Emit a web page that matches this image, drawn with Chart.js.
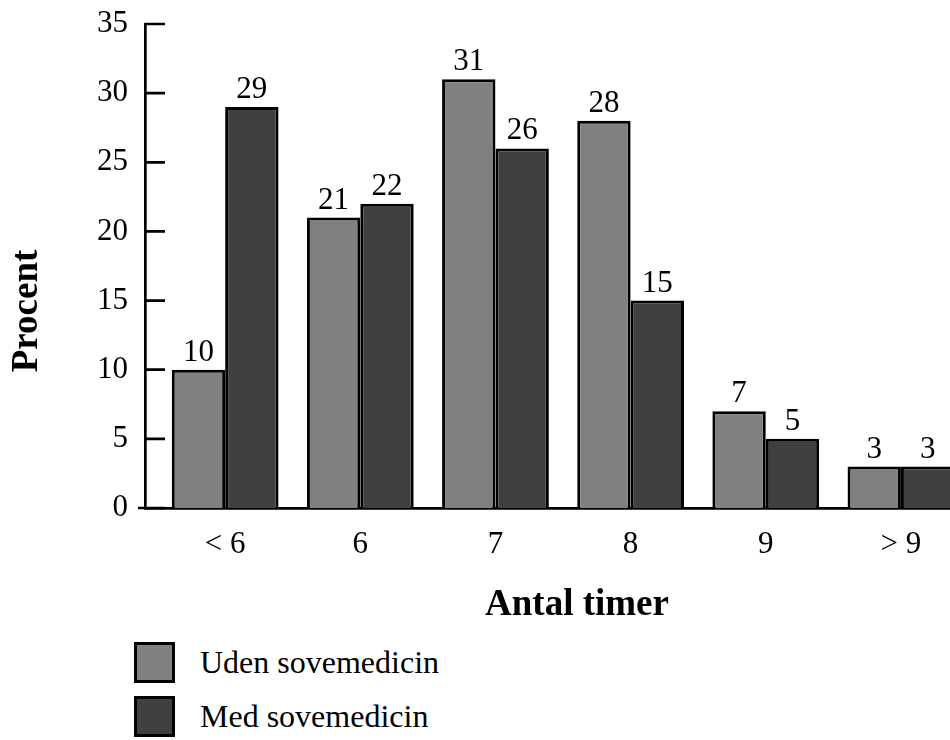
<!DOCTYPE html>
<html>
<head>
<meta charset="utf-8">
<script src="https://cdn.jsdelivr.net/npm/chart.js@4"></script>
<style>
  html, body { margin: 0; padding: 0; background: #fff; width: 950px; height: 740px; overflow: hidden; }
  #wrap { position: absolute; left: 0; top: 0; width: 975px; height: 640px; }
  #legend { position: absolute; left: 134px; top: 642px; font-family: 'Liberation Serif'; font-size: 32px; color: #000; }
  .item { display: flex; align-items: center; height: 41px; margin-bottom: 13px; }
  .box { width: 35px; height: 35px; border: 3px solid #000; margin-right: 25px; box-sizing: content-box; }
</style>
</head>
<body>
<div id="wrap"><canvas id="c" width="975" height="640"></canvas></div>
<div id="legend"></div>
<script>
const categories = ['< 6', '6', '7', '8', '9', '> 9'];
const udenValues = [10, 21, 31, 28, 7, 3];
const medValues = [29, 22, 26, 15, 5, 3];
const seriesNames = ['Uden sovemedicin', 'Med sovemedicin'];
const yTicks = [0, 5, 10, 15, 20, 25, 30, 35];
const xTitle = 'Antal timer';
const yTitle = 'Procent';

const FONT = "'Liberation Serif'";
Chart.defaults.font.family = FONT;

const toPoints = vals => vals.map((v, i) => ({ x: i, y: v }));

const axisExtras = {
  id: 'axisExtras',
  afterDraw(chart) {
    const { ctx, chartArea } = chart;
    const y = chart.scales.y;
    ctx.save();
    ctx.strokeStyle = '#000';
    ctx.lineWidth = 2.7;
    ctx.beginPath();
    y.ticks.forEach(t => {
      const py = y.getPixelForValue(t.value);
      ctx.moveTo(chartArea.left, py);
      ctx.lineTo(chartArea.left + 20, py);
    });
    const py0 = y.getPixelForValue(0);
    ctx.moveTo(chartArea.left - 7, py0);
    ctx.lineTo(chartArea.left, py0);
    ctx.stroke();

    // axis titles
    ctx.fillStyle = '#000';
    ctx.font = 'bold 37px ' + FONT;
    ctx.textAlign = 'center';
    ctx.textBaseline = 'alphabetic';
    ctx.fillText(xTitle, 577, 615);
    ctx.translate(37, 311);
    ctx.rotate(-Math.PI / 2);
    ctx.fillText(yTitle, 0, 0);
    ctx.restore();
  }
};

const valueLabels = {
  id: 'valueLabels',
  afterDatasetsDraw(chart) {
    const { ctx } = chart;
    ctx.save();
    ctx.font = '31px ' + FONT;
    ctx.fillStyle = '#000';
    ctx.textAlign = 'center';
    ctx.textBaseline = 'alphabetic';
    chart.data.datasets.forEach((ds, di) => {
      const meta = chart.getDatasetMeta(di);
      meta.data.forEach((bar, i) => {
        ctx.fillText(String(ds.data[i].y), bar.x, bar.y - 9);
      });
    });
    ctx.restore();
  }
};

const chart = new Chart(document.getElementById('c'), {
  type: 'bar',
  data: {
    datasets: [
      { label: seriesNames[0], data: toPoints(udenValues), backgroundColor: '#808080', borderColor: '#000', borderWidth: 3, borderSkipped: 'start' },
      { label: seriesNames[1], data: toPoints(medValues), backgroundColor: '#404040', borderColor: '#000', borderWidth: 3, borderSkipped: 'start' }
    ]
  },
  options: {
    responsive: false,
    animation: false,
    categoryPercentage: 0.79,
    barPercentage: 1,
    layout: { padding: { top: 24, left: 0, right: 0, bottom: 0 } },
    plugins: { legend: { display: false }, tooltip: { enabled: false } },
    scales: {
      x: {
        type: 'linear',
        offset: false,
        min: -0.593,
        max: 5.548,
        afterBuildTicks: s => { s.ticks = categories.map((_, i) => ({ value: i })); },
        afterFit: s => { s.height = 132; },
        grid: { display: false, drawTicks: false, offset: false },
        border: { display: true, color: '#000', width: 2.7 },
        ticks: {
          callback: v => categories[v],
          font: { family: FONT, size: 31 },
          color: '#000',
          padding: 18,
          maxRotation: 0,
          autoSkip: false
        },
        title: { display: false }
      },
      y: {
        min: 0,
        max: 35,
        afterBuildTicks: s => { s.ticks = yTicks.map(v => ({ value: v })); },
        afterFit: s => { s.width = 145; s.paddingTop = 0; s.paddingBottom = 0; },
        grid: { display: false, drawTicks: false },
        border: { display: true, color: '#000', width: 2.7 },
        ticks: {
          font: { family: FONT, size: 31 },
          color: '#000',
          padding: 17
        },
        title: { display: false }
      }
    }
  },
  plugins: [axisExtras, valueLabels]
});

const legend = document.getElementById('legend');
chart.data.datasets.forEach(ds => {
  const item = document.createElement('div');
  item.className = 'item';
  const box = document.createElement('div');
  box.className = 'box';
  box.style.background = ds.backgroundColor;
  const txt = document.createElement('span');
  txt.textContent = ds.label;
  item.appendChild(box);
  item.appendChild(txt);
  legend.appendChild(item);
});
</script>
</body>
</html>
